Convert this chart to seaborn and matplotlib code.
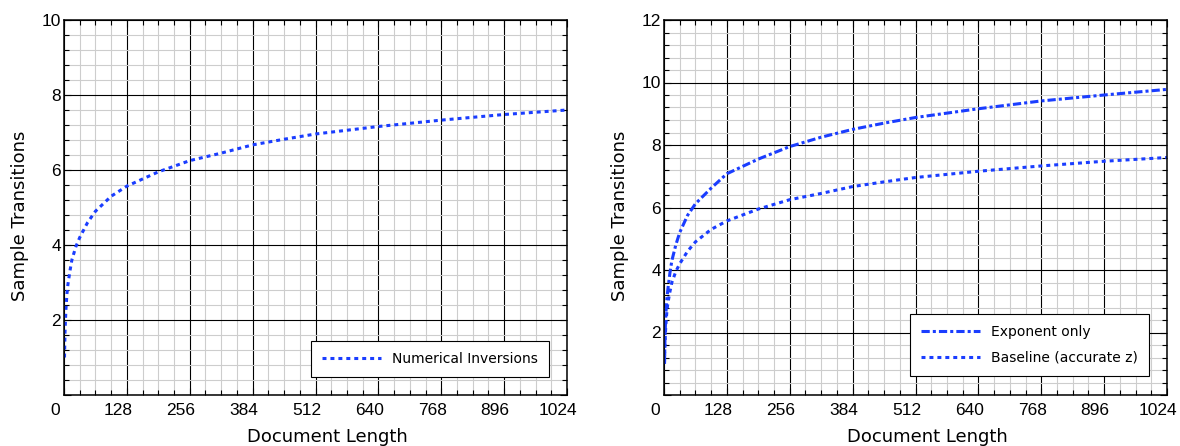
"""Sample transitions vs document length, two panels"""
import matplotlib

matplotlib.use("Agg")
import seaborn as sns
from matplotlib import pyplot as plt
from matplotlib.ticker import FuncFormatter, MultipleLocator
from matplotlib.transforms import ScaledTranslation

# values
DOC_LENGTH = [1, 2, 3, 4, 6, 8, 12, 16, 24, 32, 48, 64, 96, 128, 192, 256,
              320, 384, 448, 512, 640, 768, 896, 1024]
BASELINE = [1.0, 1.65, 2.0, 2.3, 2.7, 2.95, 3.3, 3.6, 3.95, 4.2, 4.6, 4.9, 5.3,
            5.57, 5.95, 6.25, 6.45, 6.67, 6.82, 6.96, 7.16, 7.33, 7.48, 7.6]
EXPONENT_ONLY = [1.0, 1.8, 2.3, 2.65, 3.1, 3.4, 3.9, 4.3, 4.8, 5.2, 5.75, 6.12, 6.62,
                 7.08, 7.55, 7.95, 8.25, 8.5, 8.7, 8.88, 9.16, 9.41, 9.6, 9.78]

X_MAX = 1024
BLUE = "#1a3dff"
DOTTED = (0, (1.3, 1.3))
DASHDOT = (0, (2.7, 1.0, 1.0, 1.0))
W, H = 1180, 446

sns.set_theme(style="white")
plt.rcParams["font.family"] = ["DejaVu Sans"]


def style_axes(ax, ymax, legend_y):
    """grid, ticks, labels and legend shared by both panels"""
    ax.set_xlim(0, X_MAX)
    ax.set_ylim(0, ymax)
    ax.xaxis.set_major_locator(MultipleLocator(128))
    ax.xaxis.set_minor_locator(MultipleLocator(32))
    ax.yaxis.set_major_locator(MultipleLocator(2))
    ax.yaxis.set_minor_locator(MultipleLocator(0.4))
    ax.yaxis.set_major_formatter(FuncFormatter(lambda v, p: "" if v == 0 else f"{v:g}"))
    ax.set_axisbelow(True)
    ax.grid(which="minor", color="#cdcdcd", lw=0.8)
    ax.grid(which="major", color="black", lw=0.8)
    ax.tick_params(which="both", direction="in", top=True, right=True,
                   bottom=True, left=True, color="black", width=0.8)
    ax.tick_params(which="major", length=5, labelsize=12.5,
                   labelfontfamily="Liberation Sans", labelcolor="black")
    ax.tick_params(which="minor", length=3.5)
    ax.tick_params(axis="x", pad=6)
    ax.tick_params(axis="y", pad=2)
    for side in ax.spines.values():
        side.set_visible(True)
        side.set_color("black")
        side.set_linewidth(1.1)

    shift = ScaledTranslation(-9 / 100, 0, ax.figure.dpi_scale_trans)
    for lbl in ax.get_xticklabels():
        lbl.set_transform(lbl.get_transform() + shift)

    ax.set_xlabel("Document Length", fontsize=13, color="black", labelpad=7,
                  x=0.5 + 12 / 503)
    ax.set_ylabel("Sample Transitions", fontsize=13, color="black", labelpad=9,
                  y=0.5 - 8.5 / 375)

    leg = ax.legend(loc="lower right", bbox_to_anchor=(0.964, legend_y),
                    borderaxespad=0, fancybox=False, framealpha=1,
                    edgecolor="black", fontsize=10, handlelength=4.3,
                    handletextpad=0.75, borderpad=0.8, labelspacing=0.85)
    leg.get_frame().set_linewidth(0.8)
    for txt in leg.get_texts():
        txt.set_color("black")


fig = plt.figure(figsize=(W / 100, H / 100), dpi=100)
ax_left = fig.add_axes([64 / W, 51 / H, 503 / W, 375 / H])
ax_right = fig.add_axes([664 / W, 51 / H, 503 / W, 375 / H])

sns.lineplot(x=DOC_LENGTH, y=BASELINE, ax=ax_left, color=BLUE, lw=2.2,
             linestyle=DOTTED, label="Numerical Inversions")
style_axes(ax_left, 10, 0.048)

sns.lineplot(x=DOC_LENGTH, y=EXPONENT_ONLY, ax=ax_right, color=BLUE, lw=2.2,
             linestyle=DASHDOT, label="Exponent only")
sns.lineplot(x=DOC_LENGTH, y=BASELINE, ax=ax_right, color=BLUE, lw=2.2,
             linestyle=DOTTED, label="Baseline (accurate z)")
style_axes(ax_right, 12, 0.0507)

fig.savefig("out.png", dpi=100)
